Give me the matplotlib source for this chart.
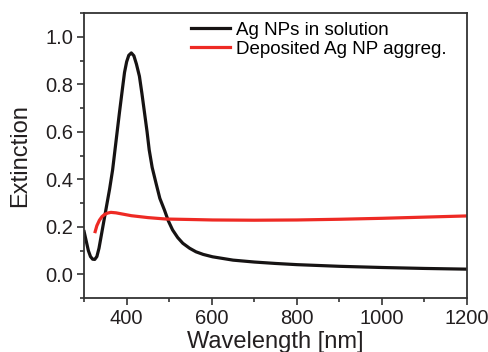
import numpy as np
import matplotlib
matplotlib.use('Agg')
import matplotlib.pyplot as plt
from matplotlib.ticker import MultipleLocator

plt.rcParams['font.family'] = ['Liberation Sans', 'DejaVu Sans']

# Ag NPs in solution (black)
wl_sol = [300, 305, 310, 315, 320, 325, 330, 335, 340, 345, 351, 360, 367, 375, 383,
          390, 395, 400, 405, 411, 417, 423, 430, 436, 442, 448, 453, 460, 469, 478,
          489, 498, 508, 520, 532, 548, 563, 580, 602, 650, 700, 750, 800, 900, 1000,
          1100, 1200]
ext_sol = [0.18, 0.14, 0.10, 0.075, 0.064, 0.063, 0.075, 0.11, 0.16, 0.21, 0.27,
           0.36, 0.44, 0.56, 0.68, 0.78, 0.85, 0.895, 0.922, 0.932, 0.92, 0.885,
           0.834, 0.76, 0.68, 0.60, 0.524, 0.45, 0.384, 0.32, 0.27, 0.225, 0.187,
           0.155, 0.131, 0.11, 0.095, 0.084, 0.074, 0.060, 0.052, 0.046, 0.041,
           0.034, 0.029, 0.025, 0.022]

# Deposited Ag NP aggregates (red)
wl_dep = [326, 330, 336, 342, 348, 355, 363, 375, 390, 411, 450, 492, 550, 602, 700,
          800, 900, 1000, 1100, 1200]
ext_dep = [0.18, 0.205, 0.228, 0.243, 0.252, 0.258, 0.261, 0.259, 0.254, 0.247,
           0.239, 0.233, 0.231, 0.229, 0.228, 0.229, 0.232, 0.236, 0.241, 0.246]

fig = plt.figure(figsize=(4.89, 3.52), dpi=100)
ax = fig.add_axes([0.172, 0.153, 0.783, 0.81])

ax.plot(wl_sol, ext_sol, color='#161313', lw=2.3, label='Ag NPs in solution')
ax.plot(wl_dep, ext_dep, color='#ee2a24', lw=2.3, label='Deposited Ag NP aggreg.')

ax.set_xlim(300, 1200)
ax.set_ylim(-0.1, 1.1)
ax.xaxis.set_minor_locator(MultipleLocator(100))
ax.yaxis.set_major_locator(MultipleLocator(0.2))
ax.yaxis.set_minor_locator(MultipleLocator(0.1))
ax.set_xticks([400, 600, 800, 1000, 1200])
ax.set_yticks([0.0, 0.2, 0.4, 0.6, 0.8, 1.0])
ax.tick_params(which='both', direction='out', color='#333333', width=1.2,
               labelsize=14.5, labelcolor='#231f20')
ax.tick_params(which='major', length=5, pad=3)
ax.tick_params(which='minor', length=3)
for s in ax.spines.values():
    s.set_linewidth(1.3)
    s.set_color('#333333')

ax.set_xlabel('Wavelength [nm]', fontsize=17, color='#231f20', labelpad=2)
ax.set_ylabel('Extinction', fontsize=17, color='#231f20', labelpad=10)

ax.legend(loc='upper right', bbox_to_anchor=(0.98, 1.015), frameon=False,
          fontsize=13.5, handlelength=2.1, handletextpad=0.3, labelspacing=0.1,
          borderaxespad=0.3)

fig.savefig('out.png', dpi=100)
